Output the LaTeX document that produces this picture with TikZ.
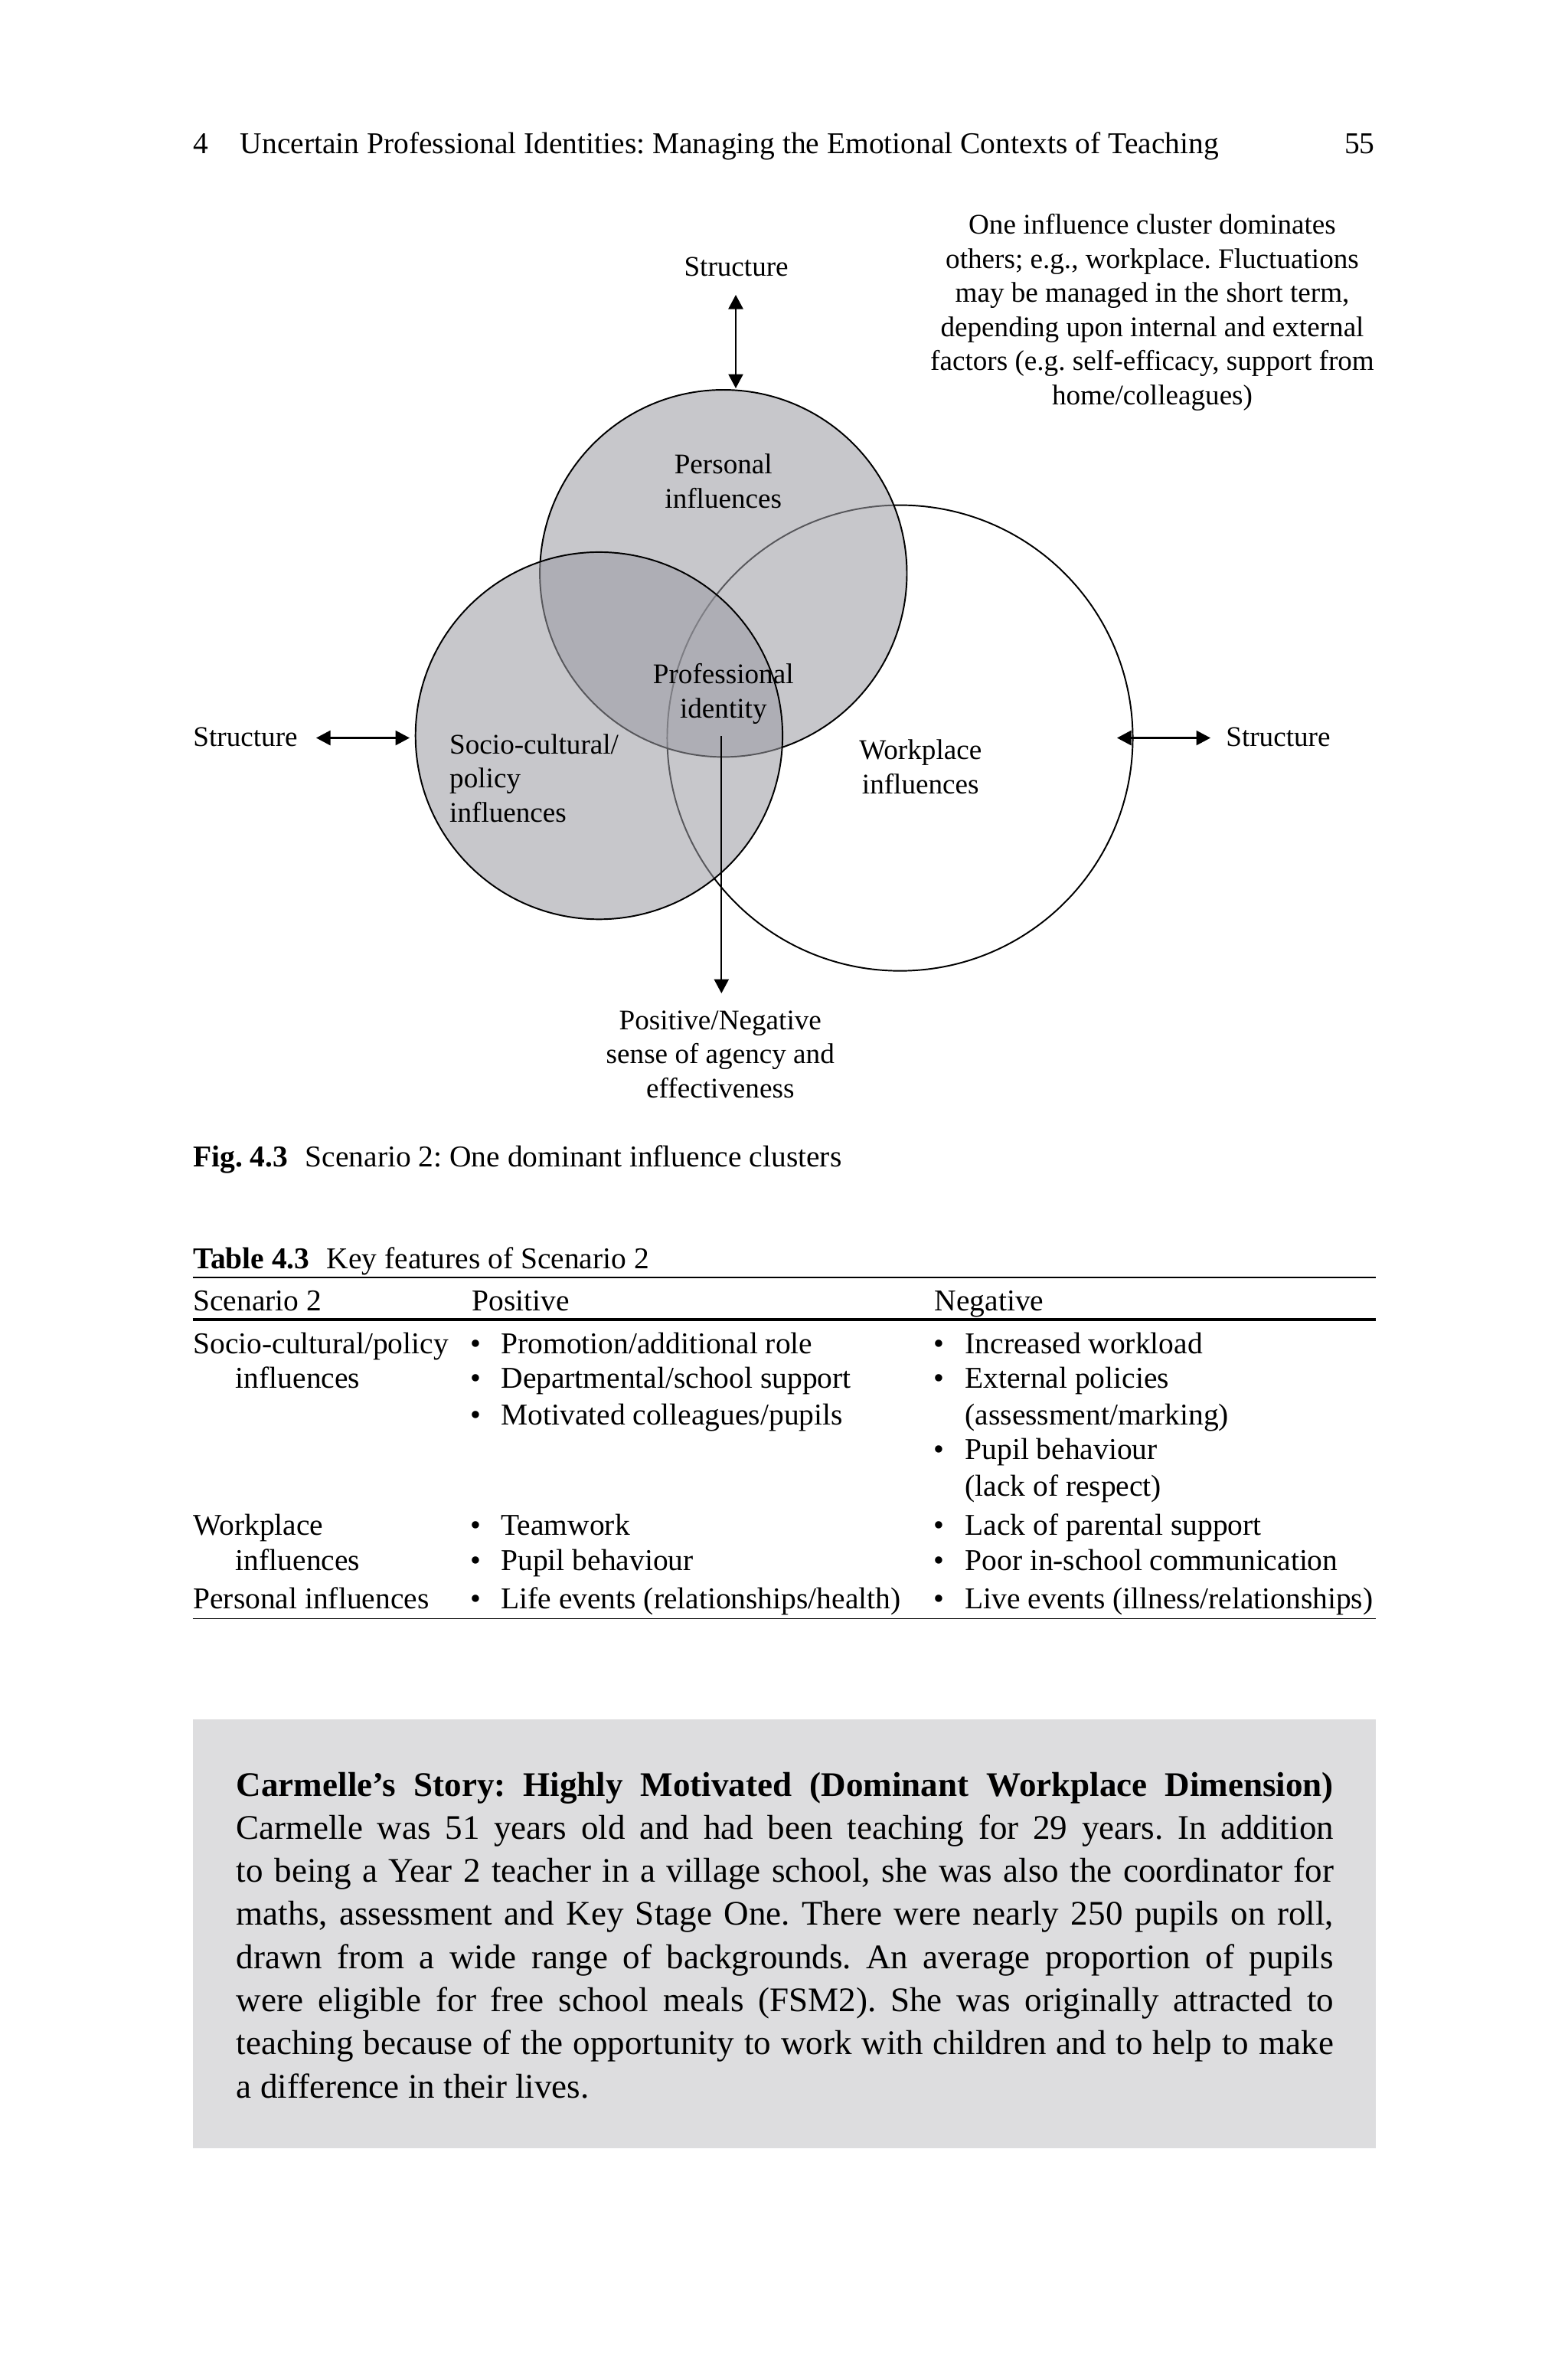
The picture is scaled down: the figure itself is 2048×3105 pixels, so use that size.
\documentclass[tikz,border=0pt]{standalone}
\usepackage{fontspec}
\setmainfont{Liberation Serif}
\usetikzlibrary{arrows.meta}
\definecolor{cfill}{RGB}{156,156,164}
\definecolor{boxgray}{RGB}{221,221,223}
\frenchspacing
\tikzset{
  hdr/.style={font=\fontsize{8.5}{10}\selectfont, inner sep=0},
  lbl/.style={font=\fontsize{8}{9.6}\selectfont, align=center, inner sep=0},
  figcap/.style={font=\fontsize{8.5}{10}\selectfont, anchor=base west, inner sep=0},
  tab/.style={font=\fontsize{8.5}{10}\selectfont, anchor=base west, inner sep=0},
  bul/.style={font=\fontsize{8.5}{10}\selectfont, anchor=base, inner sep=0},
  body/.style={font=\fontsize{9.7}{11.8}\selectfont\frenchspacing, anchor=base west, inner sep=0},
  circ/.style={circle, draw=black, line width=0.42pt, inner sep=0},
  dbl/.style={{Triangle[length=1.4mm,width=1.45mm]}-{Triangle[length=1.4mm,width=1.45mm]}, line width=0.45pt},
  one/.style={-{Triangle[length=1.4mm,width=1.45mm]}, line width=0.45pt},
  rule/.style={line width=0.4pt},
  thickrule/.style={line width=0.8pt}
}
\begin{document}
\begin{tikzpicture}[x=0.0756836mm, y=-0.0756836mm]
\fill[white] (0,0) rectangle (2048,3105);
\useasboundingbox (0,0) rectangle (2048,3105);

% running head
\node[hdr, anchor=base west] (h4) at (251.5,200) {4};
\node[hdr, anchor=base west] (htitle) at (313,200) {Uncertain Professional Identities: Managing the Emotional Contexts of Teaching};
\node[hdr, anchor=base east] (hpage) at (1796.5,200) {55};

% circles
\node[circ, minimum size=46.02mm] (work) at (1175.5,963.6) {};
\node[circ, minimum size=36.28mm, fill=cfill, fill opacity=0.56] (pers) at (944.8,748.7) {};
\node[circ, minimum size=36.28mm, fill=cfill, fill opacity=0.56] (soc) at (782.4,960.6) {};

% labels
\node[lbl] (sTop) at (961.6,348.6) {Structure};
\node[lbl] (note) at (1505,408) {One influence cluster dominates\\others; e.g., workplace. Fluctuations\\may be managed in the short term,\\depending upon internal and external\\factors (e.g. self-efficacy, support from\\home/colleagues)};
\node[lbl] (lPers) at (944.8,628) {Personal\\influences};
\node[lbl] (lProf) at (944.8,906) {Professional\\identity};
\node[lbl, align=left, anchor=west] (lSoc) at (586.3,1016) {Socio-cultural/\\policy\\influences};
\node[lbl] (lWork) at (1202.3,1001) {Workplace\\influences};
\node[lbl] (lPos) at (940.8,1376.6) {Positive/Negative\\sense of agency and\\effectiveness};
\node[lbl, anchor=west] (sLeft) at (251.5,962.6) {Structure};
\node[lbl, anchor=west] (sRight) at (1600.4,962.6) {Structure};

% arrows
\coordinate (tA) at (961,385);
\coordinate (tB) at (961,507);
\coordinate (lA) at (413,963.5);
\coordinate (lB) at (535,963.5);
\coordinate (rA) at (1459,963.5);
\coordinate (rB) at (1581,963.5);
\coordinate (dA) at (942.3,961);
\coordinate (dB) at (942.3,1297);
\draw[dbl] (tA) -- (tB);
\draw[dbl] (lA) -- (lB);
\draw[dbl] (rA) -- (rB);
\draw[one] (dA) -- (dB);

% figure caption
\node[figcap] (figA) at (251.5,1523) {\textbf{Fig. 4.3}};
\node[figcap] (figB) at (398,1523) {Scenario 2: One dominant influence clusters};

% table
\node[figcap] (tabA) at (251.5,1656) {\textbf{Table 4.3}};
\node[figcap] (tabB) at (426,1656) {Key features of Scenario 2};
\draw[rule] (251.5,1667.7) -- (1796.5,1667.7);
\draw[thickrule] (251.5,1723.2) -- (1796.5,1723.2);
\draw[rule] (251.5,2113.4) -- (1796.5,2113.4);

\node[tab] (th1) at (251.5,1711) {Scenario 2};
\node[tab] (th2) at (616,1711) {Positive};
\node[tab] (th3) at (1220,1711) {Negative};

\node[tab] (r1a) at (251.5,1767) {Socio-cultural/policy};
\node[tab] (r1b) at (307,1812.4) {influences};
\node[bul] (b21) at (621,1767) {•};
\node[tab] (p1) at (653.6,1767) {Promotion/additional role};
\node[bul] (b22) at (621,1812.4) {•};
\node[tab] (p2) at (653.6,1812.4) {Departmental/school support};
\node[bul] (b23) at (621,1860) {•};
\node[tab] (p3) at (653.6,1860) {Motivated colleagues/pupils};
\node[bul] (b31) at (1226,1767) {•};
\node[tab] (n1) at (1259.7,1767) {Increased workload};
\node[bul] (b32) at (1226,1812.4) {•};
\node[tab] (n2) at (1259.7,1812.4) {External policies};
\node[tab] (n2b) at (1259.7,1860) {(assessment/marking)};
\node[bul] (b33) at (1226,1905.5) {•};
\node[tab] (n3) at (1259.7,1905.5) {Pupil behaviour};
\node[tab] (n3b) at (1259.7,1953) {(lack of respect)};

\node[tab] (r2a) at (251.5,2004.6) {Workplace};
\node[tab] (r2b) at (307,2050) {influences};
\node[bul] (b24) at (621,2004.6) {•};
\node[tab] (p4) at (653.6,2004.6) {Teamwork};
\node[bul] (b25) at (621,2050) {•};
\node[tab] (p5) at (653.6,2050) {Pupil behaviour};
\node[bul] (b34) at (1226,2004.6) {•};
\node[tab] (n4) at (1259.7,2004.6) {Lack of parental support};
\node[bul] (b35) at (1226,2050) {•};
\node[tab] (n5) at (1259.7,2050) {Poor in-school communication};

\node[tab] (r3a) at (251.5,2100.6) {Personal influences};
\node[bul] (b26) at (621,2100.6) {•};
\node[tab] (p6) at (653.6,2100.6) {Life events (relationships/health)};
\node[bul] (b36) at (1226,2100.6) {•};
\node[tab] (n6) at (1259.7,2100.6) {Live events (illness/relationships)};

% box
\fill[boxgray] (251.5,2245) rectangle (1796.5,2805);
\node[body] (l1) at (308,2345) {\makebox[108.45mm][s]{\textbf{Carmelle’s Story: Highly Motivated (Dominant Workplace Dimension)}}};
\node[body] (l2) at (308,2401.3) {\makebox[108.45mm][s]{Carmelle was 51 years old and had been teaching for 29 years. In addition}};
\node[body] (l3) at (308,2457.6) {\makebox[108.45mm][s]{to being a Year 2 teacher in a village school, she was also the coordinator for}};
\node[body] (l4) at (308,2513.9) {\makebox[108.45mm][s]{maths, assessment and Key Stage One. There were nearly 250 pupils on roll,}};
\node[body] (l5) at (308,2570.2) {\makebox[108.45mm][s]{drawn from a wide range of backgrounds. An average proportion of pupils}};
\node[body] (l6) at (308,2626.5) {\makebox[108.45mm][s]{were eligible for free school meals (FSM2). She was originally attracted to}};
\node[body] (l7) at (308,2682.8) {\makebox[108.45mm][s]{teaching because of the opportunity to work with children and to help to make}};
\node[body] (l8) at (308,2739.1) {a difference in their lives.};
\end{tikzpicture}
\end{document}
